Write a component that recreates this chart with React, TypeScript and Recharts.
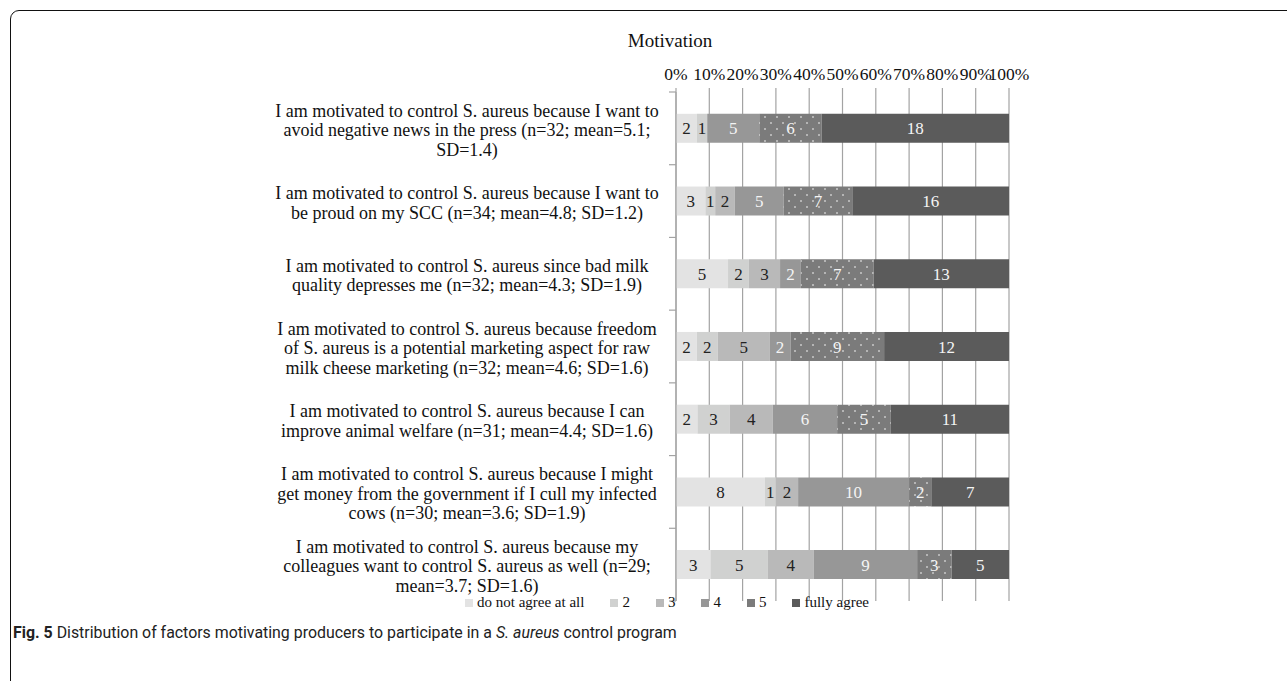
import React from "react";
import { BarChart, Bar, XAxis, YAxis, CartesianGrid, LabelList } from "recharts";

// ---------- data ----------
const categoryLines: string[][] = [
  ["I am motivated to control S. aureus because I want to", "avoid negative news in the press (n=32; mean=5.1;", "SD=1.4)"],
  ["I am motivated to control S. aureus because I want to", "be proud on my SCC (n=34; mean=4.8; SD=1.2)"],
  ["I am motivated to control S. aureus since bad milk", "quality depresses me (n=32; mean=4.3; SD=1.9)"],
  ["I am motivated to control S. aureus because freedom", "of S. aureus is a potential marketing aspect for raw", "milk cheese marketing (n=32; mean=4.6; SD=1.6)"],
  ["I am motivated to control S. aureus because I can", "improve animal welfare (n=31; mean=4.4; SD=1.6)"],
  ["I am motivated to control S. aureus because I might", "get money from the government if I cull my infected", "cows (n=30; mean=3.6; SD=1.9)"],
  ["I am motivated to control S. aureus because my", "colleagues want to control S. aureus as well (n=29;", "mean=3.7; SD=1.6)"],
];
const notAgree = [2, 3, 5, 2, 2, 8, 3];
const level2 = [1, 1, 2, 2, 3, 1, 5];
const level3 = [0, 2, 3, 5, 4, 2, 4];
const level4 = [5, 5, 2, 2, 6, 10, 9];
const level5 = [6, 7, 7, 9, 5, 2, 3];
const fullyAgree = [18, 16, 13, 12, 11, 7, 5];
const seriesNames = ["do not agree at all", "2", "3", "4", "5", "fully agree"];
const xTicks = [0, 0.1, 0.2, 0.3, 0.4, 0.5, 0.6, 0.7, 0.8, 0.9, 1];

const seriesValues = [notAgree, level2, level3, level4, level5, fullyAgree];
const seriesKeys = ["s0", "s1", "s2", "s3", "s4", "s5"];
const fills = ["#e3e3e3", "#d0d1d0", "#b9b9b9", "#979797", "url(#dots)", "#5b5b5b"];
const legendFills = ["#e3e3e3", "#d0d1d0", "#b9b9b9", "#979797", "#7b7b7b", "#5b5b5b"];
const textColors = ["#222", "#222", "#222", "#f4f4f4", "#f4f4f4", "#f4f4f4"];

const data = categoryLines.map((lines, i) => {
  const row: Record<string, any> = { name: lines.join(" ") };
  seriesKeys.forEach((k, j) => (row[k] = seriesValues[j][i]));
  return row;
});

// ---------- layout ----------
const W = 1287;
const H = 681;
const PLOT_LEFT = 676;
const PLOT_RIGHT = 1009;
const PLOT_TOP = 92;
const PLOT_BOTTOM = 601;
const BAND = (PLOT_BOTTOM - PLOT_TOP) / categoryLines.length;
const SERIF = "'Liberation Serif', 'Times New Roman', serif";
const GRID = "#a3a3a3";

const CategoryTick = (props: any) => {
  const { y, index } = props;
  const lines = categoryLines[index] || [];
  const lh = 19.5;
  const cx = PLOT_LEFT - 209;
  const startY = y + 1.5 - ((lines.length - 1) * lh) / 2;
  return (
    <g>
      <text textAnchor="middle" fontFamily={SERIF} fontSize={18} fill="#111">
        {lines.map((l, i) => (
          <tspan key={i} x={cx} y={startY + i * lh} dy="0.35em">
            {l}
          </tspan>
        ))}
      </text>
      <line x1={PLOT_LEFT - 7} x2={PLOT_LEFT} y1={y - BAND / 2} y2={y - BAND / 2} stroke={GRID} strokeWidth={1.2} />
      {index === categoryLines.length - 1 && (
        <line x1={PLOT_LEFT - 7} x2={PLOT_LEFT} y1={y + BAND / 2} y2={y + BAND / 2} stroke={GRID} strokeWidth={1.2} />
      )}
    </g>
  );
};

const makeLabel = (color: string) => (props: any) => {
  const { x, y, width, height, value } = props;
  if (!value) return null;
  return (
    <text
      x={x + width / 2}
      y={y + height / 2}
      dy="0.36em"
      textAnchor="middle"
      fontFamily={SERIF}
      fontSize={17}
      fill={color}
    >
      {value}
    </text>
  );
};

export default function App() {
  return (
    <div style={{ position: "absolute", left: 0, top: 0, width: W, height: H, background: "#fff", overflow: "hidden" }}>
      {/* rounded figure border */}
      <div
        style={{
          position: "absolute",
          left: 10,
          top: 10,
          width: 1400,
          height: 680,
          border: "1.6px solid #111",
          borderRadius: 9,
          boxSizing: "border-box",
        }}
      />
      <div
        style={{
          position: "absolute",
          left: 570,
          width: 200,
          top: 30,
          textAlign: "center",
          fontFamily: SERIF,
          fontSize: 19,
          color: "#111",
        }}
      >
        Motivation
      </div>
      <div style={{ position: "absolute", left: 0, top: 0 }}>
        <BarChart
          width={W}
          height={H}
          data={data}
          layout="vertical"
          stackOffset="expand"
          barCategoryGap="30%"
          margin={{ top: PLOT_TOP - 30, bottom: H - PLOT_BOTTOM, left: PLOT_LEFT - 460, right: W - PLOT_RIGHT }}
        >
          <defs>
            <pattern id="dots" width="12" height="12" patternUnits="userSpaceOnUse">
              <rect width="12" height="12" fill="#7b7b7b" />
              <circle cx="3" cy="3" r="0.8" fill="#ffffff" />
              <circle cx="9" cy="9" r="0.8" fill="#ffffff" />
            </pattern>
          </defs>
          <CartesianGrid vertical horizontal={false} stroke={GRID} strokeWidth={1.2} />
          <XAxis
            type="number"
            orientation="top"
            domain={[0, 1]}
            ticks={xTicks}
            interval={0}
            height={30}
            axisLine={false}
            tickLine={{ stroke: GRID, strokeWidth: 1.2 }}
            tickSize={4}
            tickMargin={8}
            tickFormatter={(v: number) => `${Math.round(v * 100)}%`}
            tick={{ fontFamily: SERIF, fontSize: 17.5, fill: "#111" }}
          />
          <YAxis
            type="category"
            dataKey="name"
            width={460}
            axisLine={{ stroke: GRID, strokeWidth: 1.2 }}
            tickLine={false}
            interval={0}
            tick={<CategoryTick />}
          />
          {seriesKeys.map((k, j) => (
            <Bar key={k} dataKey={k} stackId="a" fill={fills[j]} isAnimationActive={false} name={seriesNames[j]}>
              <LabelList dataKey={k} content={makeLabel(textColors[j])} />
            </Bar>
          ))}
        </BarChart>
      </div>
      {/* legend */}
      <div
        style={{
          position: "absolute",
          left: 0,
          width: 1334,
          top: 594,
          display: "flex",
          justifyContent: "center",
          gap: 26,
          fontFamily: SERIF,
          fontSize: 15,
          color: "#111",
        }}
      >
        {seriesNames.map((n, j) => (
          <div key={n} style={{ display: "flex", alignItems: "center", gap: 4 }}>
            <div style={{ width: 8, height: 8, background: legendFills[j] }} />
            <span>{n}</span>
          </div>
        ))}
      </div>
      {/* caption */}
      <div
        style={{
          position: "absolute",
          left: 13,
          top: 623,
          fontFamily: "Roboto, 'Noto Sans', sans-serif",
          fontSize: 15.9,
          color: "#222",
          whiteSpace: "nowrap",
        }}
      >
        <b>Fig. 5</b> Distribution of factors motivating producers to participate in a <i>S. aureus</i> control program
      </div>
    </div>
  );
}
